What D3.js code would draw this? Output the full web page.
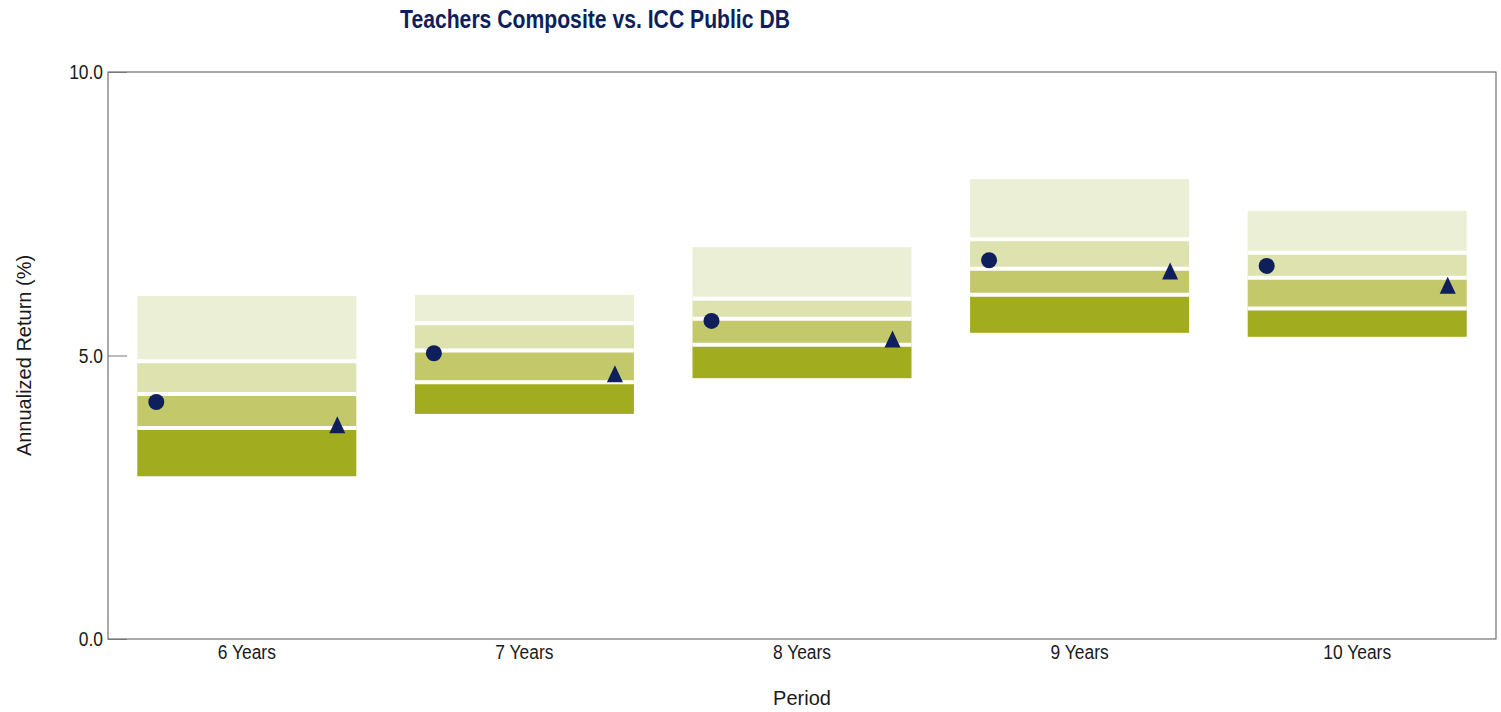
<!DOCTYPE html>
<html>
<head>
<meta charset="utf-8">
<script src="https://cdn.jsdelivr.net/npm/d3@7"></script>
<style>
  body { margin: 0; background: #fff; }
  text { font-family: "Liberation Sans", Arial, sans-serif; }
  .axis-title { font-size: 20px; fill: #1a1a1a; }
</style>
</head>
<body>
<div id="chart"></div>
<script>
// universe percentiles (top of range = 5th pct, bottom = 95th)
var periods   = ["6 Years", "7 Years", "8 Years", "9 Years", "10 Years"];
var pct5      = [6.05, 6.07, 6.91, 8.11, 7.55];
var pct25     = [4.90, 5.57, 6.00, 7.05, 6.81];
var median    = [4.32, 5.09, 5.65, 6.53, 6.37];
var pct75     = [3.72, 4.53, 5.19, 6.07, 5.83];
var pct95     = [2.87, 3.97, 4.60, 5.40, 5.33];
var composite = [4.18, 5.04, 5.61, 6.68, 6.58];   // circle
var publicDB  = [3.78, 4.68, 5.29, 6.49, 6.24];   // triangle
var yTicks    = [0, 5, 10];

var bandColors = ["#ebefd5", "#dde2ae", "#c3c96b", "#a2ac1f"];
var navy = "#0e1f5c";
var narrow = "scale(0.83,1)";   // no Arial Narrow installed, squeeze instead

var W = 1501, H = 712;
var margin = {top: 72, right: 5, bottom: 73, left: 108},
    width = W - margin.left - margin.right,
    height = H - margin.top - margin.bottom;

var svg = d3.select("#chart").append("svg")
    .attr("width", W)
    .attr("height", H);

var g = svg.append("g")
    .attr("transform", "translate(" + margin.left + "," + margin.top + ")");

var x = d3.scaleBand()
    .domain(periods)
    .range([0, width])
    .paddingInner(0.211)
    .paddingOuter(0.1055);

var y = d3.scaleLinear()
    .domain([0, 10])
    .range([height, 0]);

var data = periods.map(function(p, i) {
  return {
    period: p,
    edges: [pct5[i], pct25[i], median[i], pct75[i], pct95[i]],
    comp: composite[i],
    pub: publicDB[i]
  };
});

// floating bars, one rect per quartile
var bars = g.selectAll(".bar")
    .data(data)
  .enter().append("g")
    .attr("class", "bar");

bars.selectAll("rect")
    .data(function(d) {
      return d3.range(4).map(function(k) {
        return {period: d.period, hi: d.edges[k], lo: d.edges[k + 1], k: k};
      });
    })
  .enter().append("rect")
    .attr("x", function(d) { return x(d.period); })
    .attr("width", x.bandwidth())
    .attr("y", function(d) { return y(d.hi); })
    .attr("height", function(d) { return y(d.lo) - y(d.hi); })
    .attr("fill", function(d) { return bandColors[d.k]; });

// white separators at inner quartile edges
bars.selectAll("line")
    .data(function(d) {
      return d.edges.slice(1, 4).map(function(v) { return {period: d.period, v: v}; });
    })
  .enter().append("line")
    .attr("x1", function(d) { return x(d.period); })
    .attr("x2", function(d) { return x(d.period) + x.bandwidth(); })
    .attr("y1", function(d) { return y(d.v); })
    .attr("y2", function(d) { return y(d.v); })
    .attr("stroke", "#fff")
    .attr("stroke-width", 4);

// frame
g.append("rect")
    .attr("width", width)
    .attr("height", height)
    .attr("fill", "none")
    .attr("stroke", "#555")
    .attr("stroke-width", 1);

// y axis
var yAxis = d3.axisLeft(y)
    .tickValues(yTicks)
    .tickFormat(d3.format(".1f"))
    .tickSize(-19)
    .tickPadding(6);

var ya = g.append("g")
    .attr("class", "y axis")
    .call(yAxis);
ya.attr("font-family", null);
ya.select(".domain").remove();
ya.selectAll("line").attr("stroke", "#777");
ya.selectAll("text")
    .attr("font-size", 21)
    .attr("fill", "#1a1a1a")
    .attr("transform", narrow);

// x axis
var xAxis = d3.axisBottom(x)
    .tickSize(0)
    .tickPadding(5);

var xa = g.append("g")
    .attr("class", "x axis")
    .attr("transform", "translate(0," + height + ")")
    .call(xAxis);
xa.attr("font-family", null);
xa.select(".domain").remove();
xa.selectAll("text")
    .attr("font-size", 21)
    .attr("fill", "#1a1a1a")
    .attr("transform", narrow);

// markers
g.selectAll(".comp")
    .data(data)
  .enter().append("circle")
    .attr("class", "comp")
    .attr("cx", function(d) { return x(d.period) + 19; })
    .attr("cy", function(d) { return y(d.comp); })
    .attr("r", 8)
    .attr("fill", navy);

g.selectAll(".pub")
    .data(data)
  .enter().append("path")
    .attr("class", "pub")
    .attr("transform", function(d) {
      return "translate(" + (x(d.period) + x.bandwidth() - 19) + "," + y(d.pub) + ")";
    })
    .attr("d", "M0,-8.5L8,8.5L-8,8.5Z")
    .attr("fill", navy);

// titles
svg.append("g")
    .attr("transform", "translate(595,28)")
  .append("text")
    .attr("transform", narrow)
    .attr("text-anchor", "middle")
    .attr("font-size", 25.5)
    .attr("font-weight", "bold")
    .attr("fill", navy)
    .text("Teachers Composite vs. ICC Public DB");

svg.append("text")
    .attr("class", "axis-title")
    .attr("x", margin.left + width / 2)
    .attr("y", 705)
    .attr("text-anchor", "middle")
    .text("Period");

svg.append("text")
    .attr("class", "axis-title")
    .attr("transform", "translate(31," + (margin.top + height / 2) + ") rotate(-90)")
    .attr("text-anchor", "middle")
    .text("Annualized Return (%)");
</script>
</body>
</html>
